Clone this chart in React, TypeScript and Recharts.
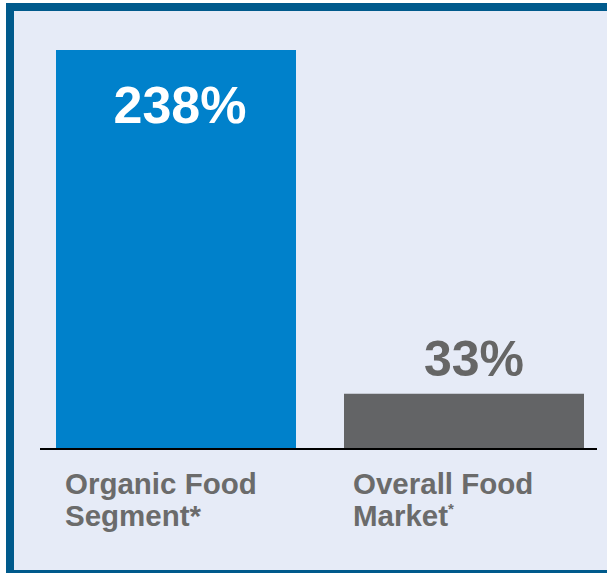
import React from 'react';
import { BarChart, Bar, XAxis, YAxis, Cell, LabelList } from 'recharts';

const categories = ['Organic Food Segment', 'Overall Food Market'];
const labelLine1 = ['Organic Food', 'Overall Food'];
const labelLine2 = ['Segment', 'Market'];
const footnoteMarks = ['*', '*'];
const superscriptMark = [false, true];
const growth = [238, 33];
const barColors = ['#0081cb', '#636466'];
const valueColors = ['#ffffff', '#666666'];

const data = categories.map((c, i) => ({ name: c, value: growth[i] }));

const FONT = '"Liberation Sans", Arial, Helvetica, sans-serif';

const CategoryTick = (props: any) => {
  const { x, y, payload } = props;
  const i = categories.indexOf(payload.value);
  const lx = x - 111;
  return (
    <text fill="#6b6b6b" fontWeight="bold" fontSize={29.5} fontFamily={FONT}>
      <tspan x={lx} y={y + 45}>{labelLine1[i]}</tspan>
      <tspan x={lx} y={y + 77}>
        {labelLine2[i]}
        {superscriptMark[i] ? (
          <tspan fontSize={15} dy={-12}>{footnoteMarks[i]}</tspan>
        ) : (
          footnoteMarks[i]
        )}
      </tspan>
    </text>
  );
};

const ValueLabel = (props: any) => {
  const { x, y, width, value, index } = props;
  const inside = index === 0;
  const cx = x + width / 2 + (inside ? 4 : 10);
  const ty = inside ? y + 73 : y - 18;
  return (
    <text
      x={cx}
      y={ty}
      textAnchor="middle"
      fill={valueColors[index]}
      fontWeight="bold"
      fontSize={inside ? 52 : 50}
      fontFamily={FONT}
    >
      {`${value}%`}
    </text>
  );
};

export default function App() {
  return (
    <div
      style={{
        position: 'absolute',
        left: 0,
        top: 0,
        width: 607,
        height: 573,
        background: '#ffffff',
        overflow: 'hidden',
      }}
    >
      <div
        style={{
          position: 'absolute',
          left: 6,
          top: 3,
          width: 640,
          height: 570,
          boxSizing: 'border-box',
          borderLeft: '8px solid #005a8c',
          borderTop: '8px solid #005a8c',
          borderBottom: '3px solid #005a8c',
          background: '#e6ebf7',
        }}
      />
      <div style={{ position: 'absolute', left: 0, top: 0 }}>
        <BarChart
          width={607}
          height={573}
          data={data}
          margin={{ top: 50, right: 10, bottom: 0, left: 40 }}
        >
          <XAxis
            dataKey="name"
            height={124}
            padding={{ left: -8, right: -11 }}
            axisLine={{ stroke: '#000000', strokeWidth: 2 }}
            tickLine={false}
            tickSize={0}
            tickMargin={0}
            interval={0}
            tick={<CategoryTick />}
          />
          <YAxis hide domain={[0, 238]} />
          <Bar dataKey="value" barSize={240} isAnimationActive={false}>
            {data.map((d, i) => (
              <Cell key={d.name} fill={barColors[i]} />
            ))}
            <LabelList dataKey="value" content={<ValueLabel />} />
          </Bar>
        </BarChart>
      </div>
    </div>
  );
}
